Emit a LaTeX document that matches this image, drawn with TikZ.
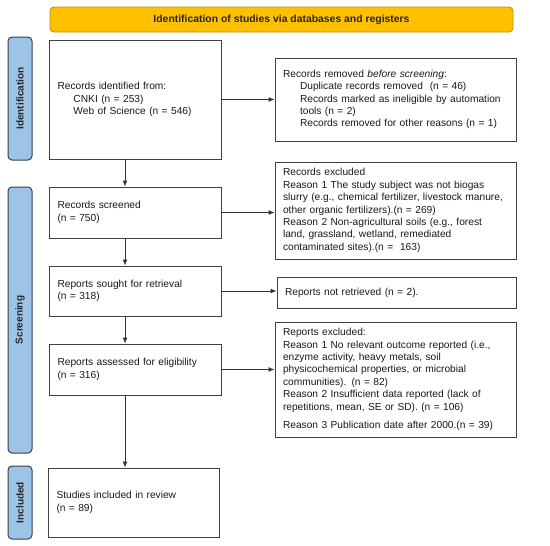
\documentclass[tikz,border=0pt]{standalone}
\usepackage{fontspec}
\setmainfont{Liberation Sans}
\usetikzlibrary{arrows.meta}
\definecolor{bannerfill}{HTML}{FFC000}
\definecolor{bannerdraw}{HTML}{B8900C}
\definecolor{sidefill}{HTML}{9DC3E6}
\definecolor{sidedraw}{HTML}{34404F}
\hyphenpenalty=10000
\begin{document}
\begin{tikzpicture}[
  x=1pt, y=-1pt,
  banner/.style={draw=bannerdraw, fill=bannerfill, rectangle, rounded corners=4pt, line width=0.8pt,
    minimum width=463pt, minimum height=25pt, font=\fontsize{10.4}{12}\selectfont\bfseries, text=black!85},
  side/.style={draw=sidedraw, fill=sidefill, rectangle, rounded corners=4pt, line width=1pt, rotate=90,
    minimum height=24pt, font=\fontsize{10}{12}\selectfont\bfseries, text=black!85},
  box/.style={draw=black!75, rectangle, line width=0.9pt, align=left, inner ysep=2pt,
    font=\fontsize{10.2}{12.4}\selectfont, text=black!90},
  leftbox/.style={box, text width=155pt, inner xsep=8.5pt},
  rightbox/.style={box, text width=225pt, inner xsep=8pt},
  arrow/.style={-{Latex[length=6pt,width=5pt]}, line width=0.9pt, draw=black!80}]
  \useasboundingbox (0,0) rectangle (550,546);
  % Banner and side panels
  \node[banner] (head) at (281.5, 19.5) {Identification of studies via databases and registers};
  \node[side, minimum width=123pt] (ident) at (20, 98.5) {Identification};
  \node[side, minimum width=266pt] (screen) at (20, 320) {Screening};
  \node[side, minimum width=73pt] (incl) at (20, 502.5) {Included};
  % Left column
  \node[leftbox, minimum height=119pt] (recid) at (135, 99.5)
    {Records identified from:\\\hspace*{16pt}CNKI (n = 253)\\\hspace*{16pt}Web of Science (n = 546)};
  \node[leftbox, minimum height=51pt] (recscr) at (135, 212.5) {Records screened\\(n = 750)};
  \node[leftbox, minimum height=50pt] (sought) at (135, 291) {Reports sought for retrieval\\(n = 318)};
  \node[leftbox, minimum height=51pt] (assess) at (135, 369.5) {Reports assessed for eligibility\\(n = 316)};
  \node[leftbox, minimum height=69pt, text width=154pt] (studies) at (133.5, 502.5)
    {Studies included in review\\(n = 89)};
  % Right column
  \node[rightbox, minimum height=83pt] (removed) at (395.5, 99.5)
    {Records removed \textit{before screening}:\\
     \hspace*{17pt}Duplicate records removed\ \ (n = 46)\\
     \hspace*{17pt}Records marked as ineligible by automation\\
     \hspace*{17pt}tools (n = 2)\\
     \hspace*{17pt}Records removed for other reasons (n = 1)};
  \node[rightbox, minimum height=97pt] (recexcl) at (395.5, 210.5)
    {Records excluded\\
     Reason 1 The study subject was not biogas\\
     slurry (e.g., chemical fertilizer, livestock manure,\\
     other organic fertilizers).(n = 269)\\
     Reason 2 Non-agricultural soils (e.g., forest\\
     land, grassland, wetland, remediated\\
     contaminated sites).(n =\ \ 163)};
  \node[rightbox, minimum height=31pt, text width=223pt] (notret) at (396.5, 292.5)
    {Reports not retrieved (n = 2).};
  \node[rightbox, minimum height=115pt] (repexcl) at (395.5, 379.5)
    {Reports excluded:\\
     Reason 1 No relevant outcome reported (i.e.,\\
     enzyme activity, heavy metals, soil\\
     physicochemical properties, or microbial\\
     communities). (n = 82)\\
     Reason 2 Insufficient data reported (lack of\\
     repetitions, mean, SE or SD). (n = 106)\\[6pt]
     Reason 3 Publication date after 2000.(n = 39)};
  % Connectors
  \draw[arrow] ([xshift=-10pt]recid.south) -- ([xshift=-10pt]recscr.north);
  \draw[arrow] ([xshift=-10pt]recscr.south) -- ([xshift=-10pt]sought.north);
  \draw[arrow] ([xshift=-10pt]sought.south) -- ([xshift=-10pt]assess.north);
  \draw[arrow] ([xshift=-10pt]assess.south) -- ([xshift=-8.5pt]studies.north);
  \draw[arrow] (recid.east) -- (recid.east -| removed.west);
  \draw[arrow] (recscr.east) -- (recscr.east -| recexcl.west);
  \draw[arrow] (sought.east) -- (sought.east -| notret.west);
  \draw[arrow] (assess.east) -- (assess.east -| repexcl.west);
\end{tikzpicture}
\end{document}
